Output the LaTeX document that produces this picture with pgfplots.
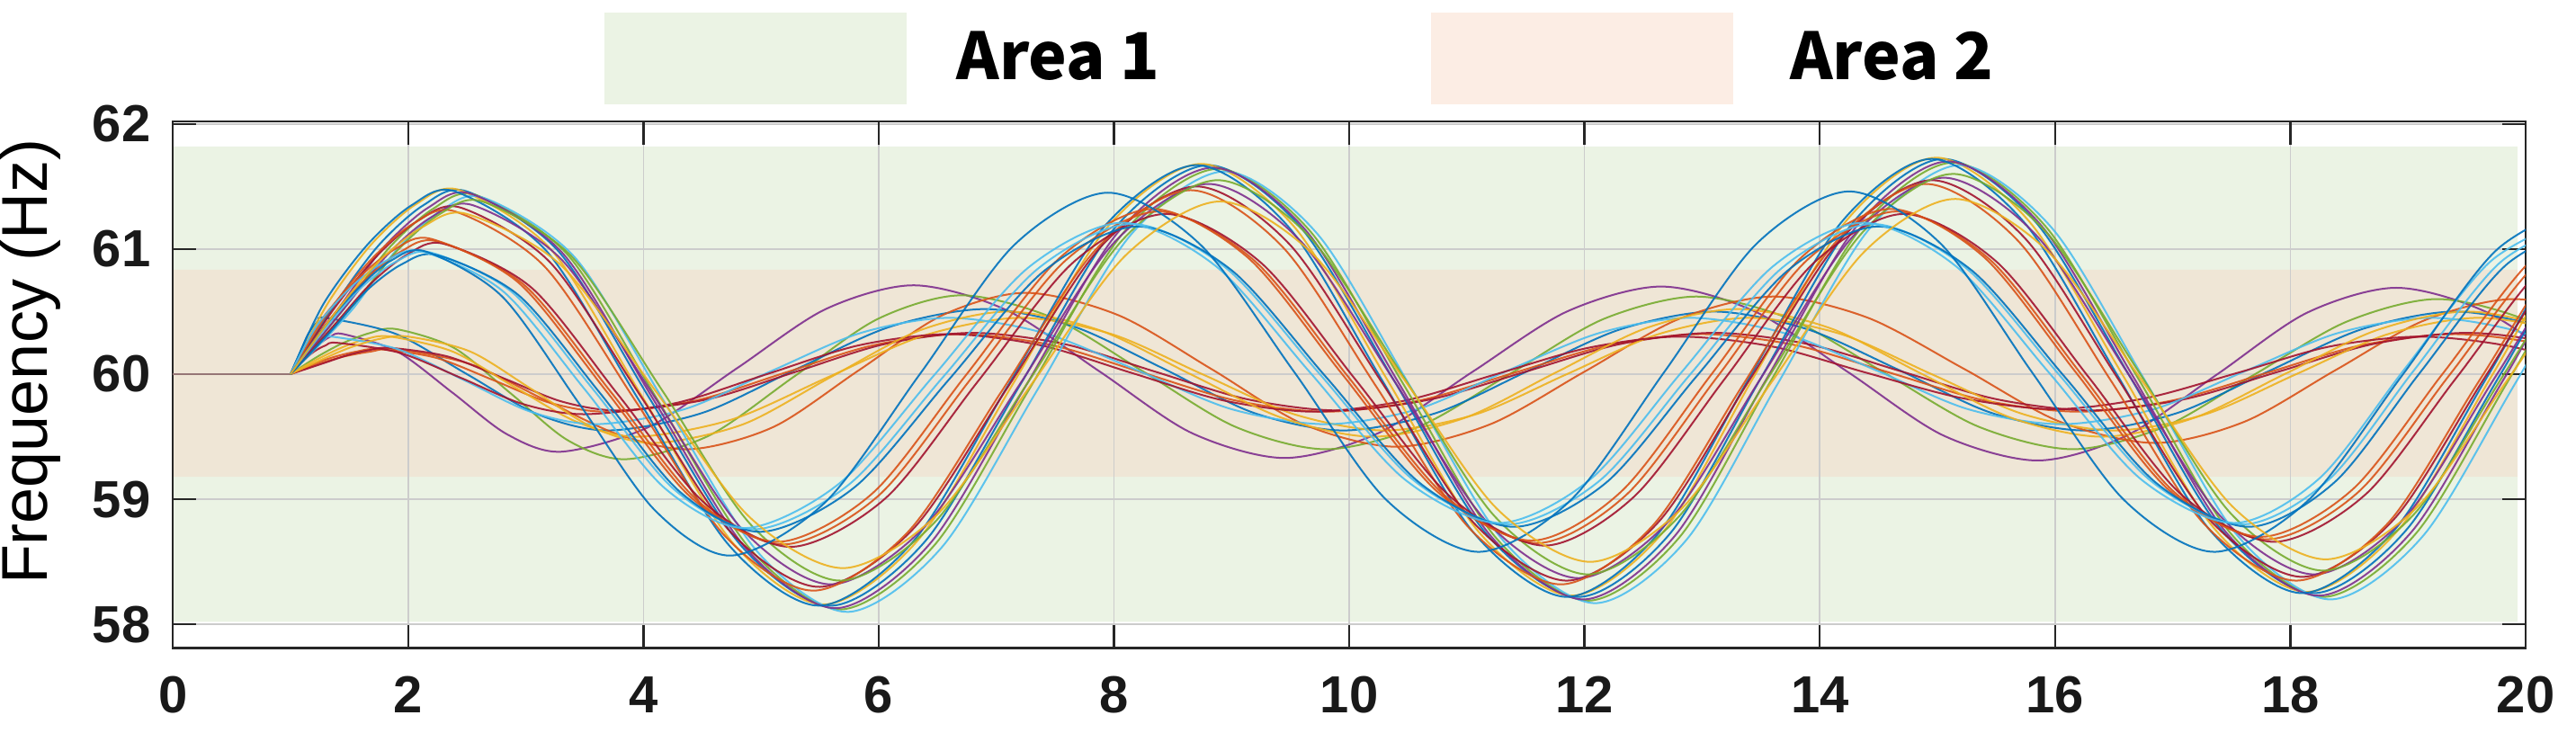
\documentclass[border=0pt]{standalone}
\usepackage{fontspec}
\setmainfont{Liberation Sans}
\newfontfamily\cjk{Noto Sans CJK SC}
\usepackage{pgfplots}
\pgfplotsset{compat=1.18}
\definecolor{mb}{RGB}{0,114,189}
\definecolor{mo}{RGB}{217,83,25}
\definecolor{my}{RGB}{237,177,32}
\definecolor{mp}{RGB}{126,47,142}
\definecolor{mg}{RGB}{119,172,48}
\definecolor{mc}{RGB}{77,190,238}
\definecolor{mr}{RGB}{162,20,47}
\definecolor{bandgreen}{RGB}{235,243,228}
\definecolor{bandorange}{RGB}{239,230,214}
\definecolor{legorange}{RGB}{252,237,228}
\definecolor{flat}{RGB}{150,118,118}
\pgfplotsset{cv/.style={smooth, mark=none, line width=0.5pt, forget plot, opacity=0.9}}
\begin{document}
\begin{tikzpicture}
\begin{axis}[
  name=ax, at={(0,0)}, anchor=south west,
  scale only axis, width=654.25pt, height=146.5pt,
  clip bounding box=upper bound,
  xmin=0, xmax=20, ymin=57.81, ymax=62.02,
  xtick={0,2,...,20}, ytick={58,59,60,61,62},
  tick align=inside, major tick length=6.5pt,
  grid=major, major grid style={draw=black!20, line width=0.4pt},
  axis line style={draw=black!85, line width=0.6pt},
  tick style={draw=black!85, line width=0.6pt},
  set layers,
  /pgf/number format/assume math mode=true,
  ticklabel style={font=\bfseries\fontsize{14.5}{16}\selectfont, text=black!90},
  xticklabel style={inner sep=0pt, anchor=north, yshift=-7.75pt},
  yticklabel style={inner sep=0pt, anchor=east, xshift=-6pt},
  ylabel={Frequency (Hz)},
  ylabel style={at={(ticklabel cs:0.544,8.75pt)}, anchor=south, inner sep=0pt, font=\fontsize{18}{20}\selectfont},
  legend style={at={(rel axis cs:0.4786,1)}, anchor=south, yshift=4.75pt, draw=none, fill=none,
     inner sep=0pt, outer sep=0pt, nodes={inner sep=0pt},
     font=\cjk\bfseries\fontsize{18}{20}\selectfont,
     /tikz/column 1/.style={column sep=14pt},
     /tikz/column 2/.style={column sep=75.3pt},
     /tikz/column 3/.style={column sep=16pt}},
  legend columns=2,
  legend image code/.code={\fill[#1] (0pt,-12.75pt) rectangle (84pt,12.75pt);},
]
\addlegendimage{fill=bandgreen, draw=none}
\addlegendentry{Area 1}
\addlegendimage{fill=legorange, draw=none}
\addlegendentry{Area 2}

% bands
\addplot[forget plot, on layer=axis background, fill=bandgreen, draw=none] coordinates {(0,58.02) (19.93,58.02) (19.93,61.82) (0,61.82) (0,58.02)};
\addplot[forget plot, on layer=axis background, fill=bandorange, draw=none] coordinates {(0,59.18) (19.93,59.18) (19.93,60.835) (0,60.835) (0,59.18)};

% flat part
\addplot[forget plot, draw=flat, line width=0.6pt] coordinates {(0,60) (1,60)};

% ---- family B (small oscillation) ----
\addplot[cv, mp] coordinates {(1,60) (1.11,60.12) (1.23,60.23) (1.34,60.30) (1.45,60.32) (1.91,60.18) (2.38,59.85) (2.84,59.52) (3.3,59.38) (4.05,59.58) (4.8,60.05) (5.55,60.52) (6.3,60.71) (7.09,60.51) (7.88,60.02) (8.66,59.53) (9.45,59.33) (10.25,59.53) (11.05,60.02) (11.85,60.50) (12.65,60.70) (13.45,60.50) (14.25,60.01) (15.05,59.51) (15.85,59.31) (16.61,59.51) (17.38,60.00) (18.14,60.49) (18.9,60.69) (19.68,60.49) (20.45,60.00) (21.23,59.50) (22.0,59.30)};
\addplot[cv, mg] coordinates {(1,60) (1.23,60.14) (1.45,60.25) (1.68,60.33) (1.9,60.36) (2.39,60.21) (2.88,59.84) (3.36,59.47) (3.85,59.32) (4.56,59.51) (5.28,59.98) (5.99,60.44) (6.7,60.63) (7.48,60.45) (8.25,60.02) (9.03,59.58) (9.8,59.40) (10.59,59.58) (11.38,60.01) (12.16,60.44) (12.95,60.62) (13.75,60.44) (14.55,60.01) (15.35,59.58) (16.15,59.40) (16.93,59.58) (17.7,60.00) (18.48,60.42) (19.25,60.60) (20.04,60.42) (20.83,60.00) (21.61,59.58) (22.4,59.40)};
\addplot[cv, mb] coordinates {(1,60) (1.08,60.17) (1.15,60.32) (1.23,60.42) (1.3,60.45) (1.9,60.32) (2.5,60.00) (3.1,59.68) (3.7,59.55) (4.5,59.69) (5.3,60.04) (6.1,60.38) (6.9,60.52) (7.66,60.38) (8.43,60.04) (9.19,59.69) (9.95,59.55) (10.74,59.69) (11.53,60.03) (12.31,60.36) (13.1,60.50) (13.89,60.36) (14.68,60.03) (15.46,59.69) (16.25,59.55) (17.04,59.69) (17.83,60.03) (18.61,60.36) (19.4,60.50) (20.18,60.36) (20.95,60.03) (21.73,59.69) (22.5,59.55)};
\addplot[cv, mo] coordinates {(1,60) (1.23,60.08) (1.45,60.14) (1.68,60.18) (1.9,60.20) (2.53,60.08) (3.15,59.80) (3.78,59.52) (4.4,59.40) (5.11,59.58) (5.83,60.03) (6.54,60.47) (7.25,60.65) (8.04,60.47) (8.83,60.04) (9.61,59.60) (10.4,59.42) (11.2,59.60) (12.0,60.02) (12.8,60.44) (13.6,60.62) (14.41,60.45) (15.23,60.04) (16.04,59.62) (16.85,59.45) (17.61,59.62) (18.38,60.03) (19.14,60.43) (19.9,60.60) (20.68,60.43) (21.45,60.03) (22.23,59.62) (23.0,59.45)};
\addplot[cv, mo] coordinates {(1,60) (1.19,60.08) (1.38,60.14) (1.56,60.18) (1.75,60.20) (2.24,60.13) (2.73,59.95) (3.21,59.77) (3.7,59.70) (4.45,59.79) (5.2,60.01) (5.95,60.23) (6.7,60.32) (7.48,60.23) (8.25,60.01) (9.03,59.79) (9.8,59.70) (10.6,59.79) (11.4,60.01) (12.2,60.23) (13.0,60.32) (13.8,60.23) (14.6,60.01) (15.4,59.79) (16.2,59.70) (17.0,59.79) (17.8,60.01) (18.6,60.23) (19.4,60.32) (20.18,60.23) (20.95,60.01) (21.73,59.79) (22.5,59.70)};
\addplot[cv, mr] coordinates {(1,60) (1.29,60.09) (1.48,60.15) (1.66,60.19) (1.85,60.21) (2.34,60.14) (2.83,59.96) (3.31,59.78) (3.8,59.71) (4.55,59.80) (5.3,60.02) (6.05,60.24) (6.8,60.33) (7.58,60.24) (8.35,60.02) (9.13,59.80) (9.9,59.71) (10.7,59.80) (11.5,60.02) (12.3,60.24) (13.1,60.33) (13.9,60.24) (14.7,60.02) (15.5,59.80) (16.3,59.71) (17.1,59.80) (17.9,60.02) (18.7,60.24) (19.5,60.33) (20.28,60.24) (21.05,60.02) (21.83,59.80) (22.6,59.71)};
\addplot[cv, my] coordinates {(1,60) (1.21,60.11) (1.43,60.21) (1.64,60.28) (1.85,60.30) (2.38,60.18) (2.9,59.90) (3.43,59.62) (3.95,59.50) (4.76,59.64) (5.58,59.98) (6.39,60.31) (7.2,60.45) (7.98,60.32) (8.75,60.00) (9.53,59.68) (10.3,59.55) (11.08,59.68) (11.85,60.00) (12.63,60.32) (13.4,60.45) (14.18,60.32) (14.95,60.00) (15.73,59.68) (16.5,59.55) (17.28,59.68) (18.05,60.00) (18.83,60.32) (19.6,60.45) (20.38,60.32) (21.15,60.00) (21.93,59.68) (22.7,59.55)};
\addplot[cv, mc] coordinates {(1,60) (1.09,60.11) (1.18,60.21) (1.26,60.28) (1.35,60.30) (1.91,60.20) (2.48,59.95) (3.04,59.70) (3.6,59.60) (4.35,59.72) (5.1,60.03) (5.85,60.33) (6.6,60.45) (7.4,60.33) (8.2,60.03) (9.0,59.72) (9.8,59.60) (10.58,59.72) (11.35,60.03) (12.13,60.33) (12.9,60.45) (13.69,60.33) (14.48,60.03) (15.26,59.72) (16.05,59.60) (16.84,59.72) (17.63,60.03) (18.41,60.33) (19.2,60.45) (19.98,60.33) (20.75,60.03) (21.53,59.72) (22.3,59.60)};
\addplot[cv, mr] coordinates {(1,60) (1.1,60.10) (1.2,60.18) (1.3,60.23) (1.4,60.25) (1.93,60.17) (2.45,59.97) (2.98,59.76) (3.5,59.68) (4.28,59.77) (5.05,60.00) (5.83,60.23) (6.6,60.32) (7.38,60.23) (8.15,60.01) (8.93,59.79) (9.7,59.70) (10.48,59.79) (11.25,60.00) (12.03,60.21) (12.8,60.30) (13.6,60.22) (14.4,60.01) (15.2,59.81) (16.0,59.72) (16.78,59.81) (17.55,60.01) (18.33,60.22) (19.1,60.30) (19.88,60.22) (20.65,60.01) (21.43,59.81) (22.2,59.72)};
\addplot[cv, my] coordinates {(1,60) (1.25,60.11) (1.5,60.21) (1.75,60.28) (2.0,60.30) (2.53,60.18) (3.05,59.88) (3.58,59.57) (4.1,59.45) (4.85,59.60) (5.6,59.98) (6.35,60.35) (7.1,60.50) (7.88,60.35) (8.65,60.00) (9.43,59.65) (10.2,59.50) (10.98,59.65) (11.75,60.01) (12.53,60.37) (13.3,60.52) (14.08,60.37) (14.85,60.01) (15.63,59.65) (16.4,59.50) (17.18,59.65) (17.95,60.00) (18.73,60.35) (19.5,60.50) (20.28,60.35) (21.05,60.00) (21.83,59.65) (22.6,59.50)};

% ---- family A (large oscillation) ----
\addplot[cv, mb] coordinates {(1,60) (1.38,60.56) (1.75,61.03) (2.13,61.35) (2.5,61.46) (3.28,60.98) (4.05,59.81) (4.83,58.63) (5.6,58.15) (6.4,58.67) (7.2,59.91) (8.0,61.16) (8.8,61.67) (9.59,61.17) (10.38,59.95) (11.16,58.73) (11.95,58.22) (12.73,58.73) (13.5,59.97) (14.28,61.21) (15.05,61.72) (15.84,61.21) (16.63,59.99) (17.41,58.76) (18.2,58.25) (18.99,58.76) (19.78,59.99) (20.56,61.21) (21.35,61.72)};
\addplot[cv, mg] coordinates {(1,60) (1.46,60.53) (1.83,61.00) (2.21,61.32) (2.58,61.43) (3.36,60.95) (4.13,59.78) (4.91,58.60) (5.68,58.12) (6.48,58.64) (7.28,59.88) (8.08,61.13) (8.88,61.64) (9.67,61.14) (10.46,59.92) (11.24,58.70) (12.03,58.19) (12.81,58.70) (13.58,59.94) (14.36,61.18) (15.13,61.69) (15.92,61.18) (16.71,59.96) (17.49,58.73) (18.28,58.22) (19.07,58.73) (19.86,59.96) (20.64,61.18) (21.43,61.69)};
\addplot[cv, my] coordinates {(1,60) (1.32,60.57) (1.69,61.04) (2.07,61.36) (2.44,61.47) (3.22,60.99) (3.99,59.82) (4.77,58.64) (5.54,58.16) (6.34,58.68) (7.14,59.92) (7.94,61.17) (8.74,61.68) (9.53,61.18) (10.32,59.96) (11.10,58.74) (11.89,58.23) (12.67,58.74) (13.44,59.98) (14.22,61.22) (14.99,61.73) (15.78,61.22) (16.57,60.00) (17.35,58.77) (18.14,58.26) (18.93,58.77) (19.72,60.00) (20.50,61.22) (21.29,61.73)};
\addplot[cv, mc] coordinates {(1,60) (1.52,60.51) (1.89,60.98) (2.27,61.30) (2.64,61.41) (3.42,60.93) (4.19,59.76) (4.97,58.58) (5.74,58.10) (6.54,58.62) (7.34,59.86) (8.14,61.11) (8.94,61.62) (9.73,61.12) (10.52,59.90) (11.30,58.68) (12.09,58.17) (12.87,58.68) (13.64,59.92) (14.42,61.16) (15.19,61.67) (15.98,61.16) (16.77,59.94) (17.55,58.71) (18.34,58.20) (19.13,58.71) (19.92,59.94) (20.70,61.16) (21.49,61.67)};
\addplot[cv, mp] coordinates {(1,60) (1.42,60.54) (1.79,61.01) (2.17,61.33) (2.54,61.44) (3.32,60.96) (4.09,59.79) (4.87,58.61) (5.64,58.13) (6.44,58.65) (7.24,59.89) (8.04,61.14) (8.84,61.65) (9.63,61.15) (10.42,59.93) (11.20,58.71) (11.99,58.20) (12.77,58.71) (13.54,59.95) (14.32,61.19) (15.09,61.70) (15.88,61.19) (16.67,59.97) (17.45,58.74) (18.24,58.23) (19.03,58.74) (19.82,59.97) (20.60,61.19) (21.39,61.70)};
\addplot[cv, mb] coordinates {(1,60) (1.28,60.56) (1.65,61.03) (2.03,61.35) (2.4,61.46) (3.18,60.98) (3.95,59.81) (4.73,58.63) (5.5,58.15) (6.3,58.67) (7.1,59.91) (7.9,61.16) (8.7,61.67) (9.49,61.17) (10.28,59.95) (11.06,58.73) (11.85,58.22) (12.63,58.73) (13.4,59.97) (14.18,61.21) (14.95,61.72) (15.74,61.21) (16.53,59.99) (17.31,58.76) (18.1,58.25) (18.89,58.76) (19.68,59.99) (20.46,61.21) (21.25,61.72)};
\addplot[cv, mr] coordinates {(1,60) (1.36,60.51) (1.73,60.94) (2.09,61.23) (2.45,61.33) (3.21,60.89) (3.98,59.82) (4.74,58.74) (5.5,58.30) (6.3,58.77) (7.1,59.90) (7.9,61.03) (8.7,61.50) (9.49,61.04) (10.28,59.93) (11.06,58.81) (11.85,58.35) (12.63,58.82) (13.4,59.95) (14.18,61.08) (14.95,61.55) (15.74,61.09) (16.53,59.97) (17.31,58.84) (18.1,58.38) (18.88,58.84) (19.65,59.97) (20.43,61.09) (21.2,61.55)};
\addplot[cv, mp] coordinates {(1,60) (1.46,60.53) (1.83,60.96) (2.19,61.25) (2.55,61.35) (3.31,60.91) (4.08,59.84) (4.84,58.76) (5.6,58.32) (6.4,58.79) (7.2,59.92) (8.0,61.05) (8.8,61.52) (9.59,61.06) (10.38,59.95) (11.16,58.83) (11.95,58.37) (12.73,58.84) (13.5,59.97) (14.28,61.10) (15.05,61.57) (15.84,61.11) (16.63,59.99) (17.41,58.86) (18.2,58.40) (18.98,58.86) (19.75,59.99) (20.53,61.11) (21.3,61.57)};
\addplot[cv, mo] coordinates {(1,60) (1.31,60.48) (1.68,60.91) (2.04,61.20) (2.4,61.30) (3.16,60.86) (3.93,59.79) (4.69,58.71) (5.45,58.27) (6.25,58.74) (7.05,59.87) (7.85,61.00) (8.65,61.47) (9.44,61.01) (10.23,59.90) (11.01,58.78) (11.8,58.32) (12.58,58.79) (13.35,59.92) (14.13,61.05) (14.9,61.52) (15.69,61.06) (16.48,59.94) (17.26,58.81) (18.05,58.35) (18.83,58.81) (19.6,59.94) (20.38,61.06) (21.15,61.52)};
\addplot[cv, mg] coordinates {(1,60) (1.54,60.56) (1.91,60.99) (2.27,61.28) (2.63,61.38) (3.39,60.94) (4.16,59.87) (4.92,58.79) (5.68,58.35) (6.48,58.82) (7.28,59.95) (8.08,61.08) (8.88,61.55) (9.67,61.09) (10.46,59.98) (11.24,58.86) (12.03,58.40) (12.81,58.87) (13.58,60.00) (14.36,61.13) (15.13,61.60) (15.92,61.14) (16.71,60.02) (17.49,58.89) (18.28,58.43) (19.06,58.89) (19.83,60.02) (20.61,61.14) (21.38,61.60)};
\addplot[cv, mo] coordinates {(1,60) (1.31,60.41) (1.63,60.75) (1.94,60.98) (2.25,61.06) (2.99,60.71) (3.73,59.85) (4.46,58.99) (5.2,58.64) (6.0,59.03) (6.79,59.97) (7.59,60.91) (8.38,61.30) (9.19,60.91) (9.99,59.98) (10.8,59.04) (11.6,58.65) (12.36,59.04) (13.13,59.98) (13.89,60.91) (14.65,61.30) (15.44,60.92) (16.23,59.99) (17.01,59.06) (17.8,58.68) (18.58,59.06) (19.35,59.99) (20.13,60.92) (20.9,61.30)};
\addplot[cv, mr] coordinates {(1,60) (1.37,60.39) (1.69,60.73) (2.0,60.96) (2.31,61.04) (3.05,60.69) (3.79,59.83) (4.52,58.97) (5.26,58.62) (6.06,59.01) (6.85,59.95) (7.65,60.89) (8.44,61.28) (9.25,60.89) (10.05,59.96) (10.86,59.02) (11.66,58.63) (12.42,59.02) (13.19,59.96) (13.95,60.89) (14.71,61.28) (15.5,60.90) (16.29,59.97) (17.07,59.04) (17.86,58.66) (18.64,59.04) (19.41,59.97) (20.19,60.90) (20.96,61.28)};
\addplot[cv, mo] coordinates {(1,60) (1.26,60.43) (1.58,60.77) (1.89,61.00) (2.2,61.08) (2.94,60.73) (3.68,59.87) (4.41,59.01) (5.15,58.66) (5.95,59.05) (6.74,59.99) (7.54,60.93) (8.33,61.32) (9.14,60.93) (9.94,60.00) (10.75,59.06) (11.55,58.67) (12.31,59.06) (13.08,60.00) (13.84,60.93) (14.6,61.32) (15.39,60.94) (16.18,60.01) (16.96,59.08) (17.75,58.70) (18.53,59.08) (19.3,60.01) (20.08,60.94) (20.85,61.32)};
\addplot[cv, mc] coordinates {(1,60) (1.3,60.37) (1.6,60.69) (1.9,60.90) (2.2,60.97) (2.89,60.65) (3.58,59.87) (4.26,59.08) (4.95,58.76) (5.75,59.12) (6.55,59.98) (7.35,60.84) (8.15,61.20) (8.95,60.85) (9.75,60.00) (10.55,59.15) (11.35,58.80) (12.13,59.15) (12.9,60.00) (13.68,60.85) (14.45,61.20) (15.24,60.85) (16.03,60.00) (16.81,59.15) (17.6,58.80) (18.33,59.16) (19.05,60.03) (19.78,60.89) (20.5,61.25)};
\addplot[cv, mb] coordinates {(1,60) (1.35,60.35) (1.65,60.67) (1.95,60.88) (2.25,60.95) (2.94,60.63) (3.63,59.85) (4.31,59.06) (5.0,58.74) (5.8,59.10) (6.6,59.96) (7.4,60.82) (8.2,61.18) (9.0,60.83) (9.8,59.98) (10.6,59.13) (11.4,58.78) (12.18,59.13) (12.95,59.98) (13.73,60.83) (14.5,61.18) (15.29,60.83) (16.08,59.98) (16.86,59.13) (17.65,58.78) (18.38,59.14) (19.1,60.01) (19.83,60.87) (20.55,61.23)};
\addplot[cv, mc] coordinates {(1,60) (1.22,60.38) (1.52,60.70) (1.82,60.91) (2.12,60.98) (2.81,60.66) (3.5,59.88) (4.18,59.09) (4.87,58.77) (5.67,59.13) (6.47,59.99) (7.27,60.85) (8.07,61.21) (8.87,60.86) (9.67,60.01) (10.47,59.16) (11.27,58.81) (12.05,59.16) (12.82,60.01) (13.6,60.86) (14.37,61.21) (15.16,60.86) (15.95,60.01) (16.73,59.16) (17.52,58.81) (18.25,59.17) (18.97,60.04) (19.7,60.90) (20.42,61.26)};
\addplot[cv, mb] coordinates {(1,60) (1.29,60.38) (1.58,60.69) (1.86,60.91) (2.15,60.98) (2.8,60.62) (3.45,59.77) (4.1,58.91) (4.75,58.55) (5.55,58.98) (6.35,60.00) (7.15,61.03) (7.95,61.45) (8.74,61.03) (9.53,60.02) (10.31,59.00) (11.1,58.58) (11.89,59.00) (12.68,60.02) (13.46,61.04) (14.25,61.46) (15.03,61.04) (15.8,60.02) (16.58,59.00) (17.35,58.58) (18.15,58.99) (18.95,59.99) (19.75,60.99) (20.55,61.40)};
\addplot[cv, my] coordinates {(1,60) (1.38,60.49) (1.75,60.90) (2.13,61.18) (2.5,61.28) (3.3,60.87) (4.1,59.87) (4.9,58.86) (5.7,58.45) (6.5,58.88) (7.3,59.92) (8.1,60.95) (8.9,61.38) (9.69,60.96) (10.48,59.94) (11.26,58.92) (12.05,58.50) (12.83,58.93) (13.6,59.95) (14.38,60.98) (15.15,61.40) (15.94,60.98) (16.73,59.96) (17.51,58.94) (18.3,58.52) (19.08,58.94) (19.85,59.96) (20.63,60.98) (21.4,61.40)};
\end{axis}
\path (-47.75pt,-28.5pt) rectangle (668.25pt,180.25pt);
\end{tikzpicture}
\end{document}
